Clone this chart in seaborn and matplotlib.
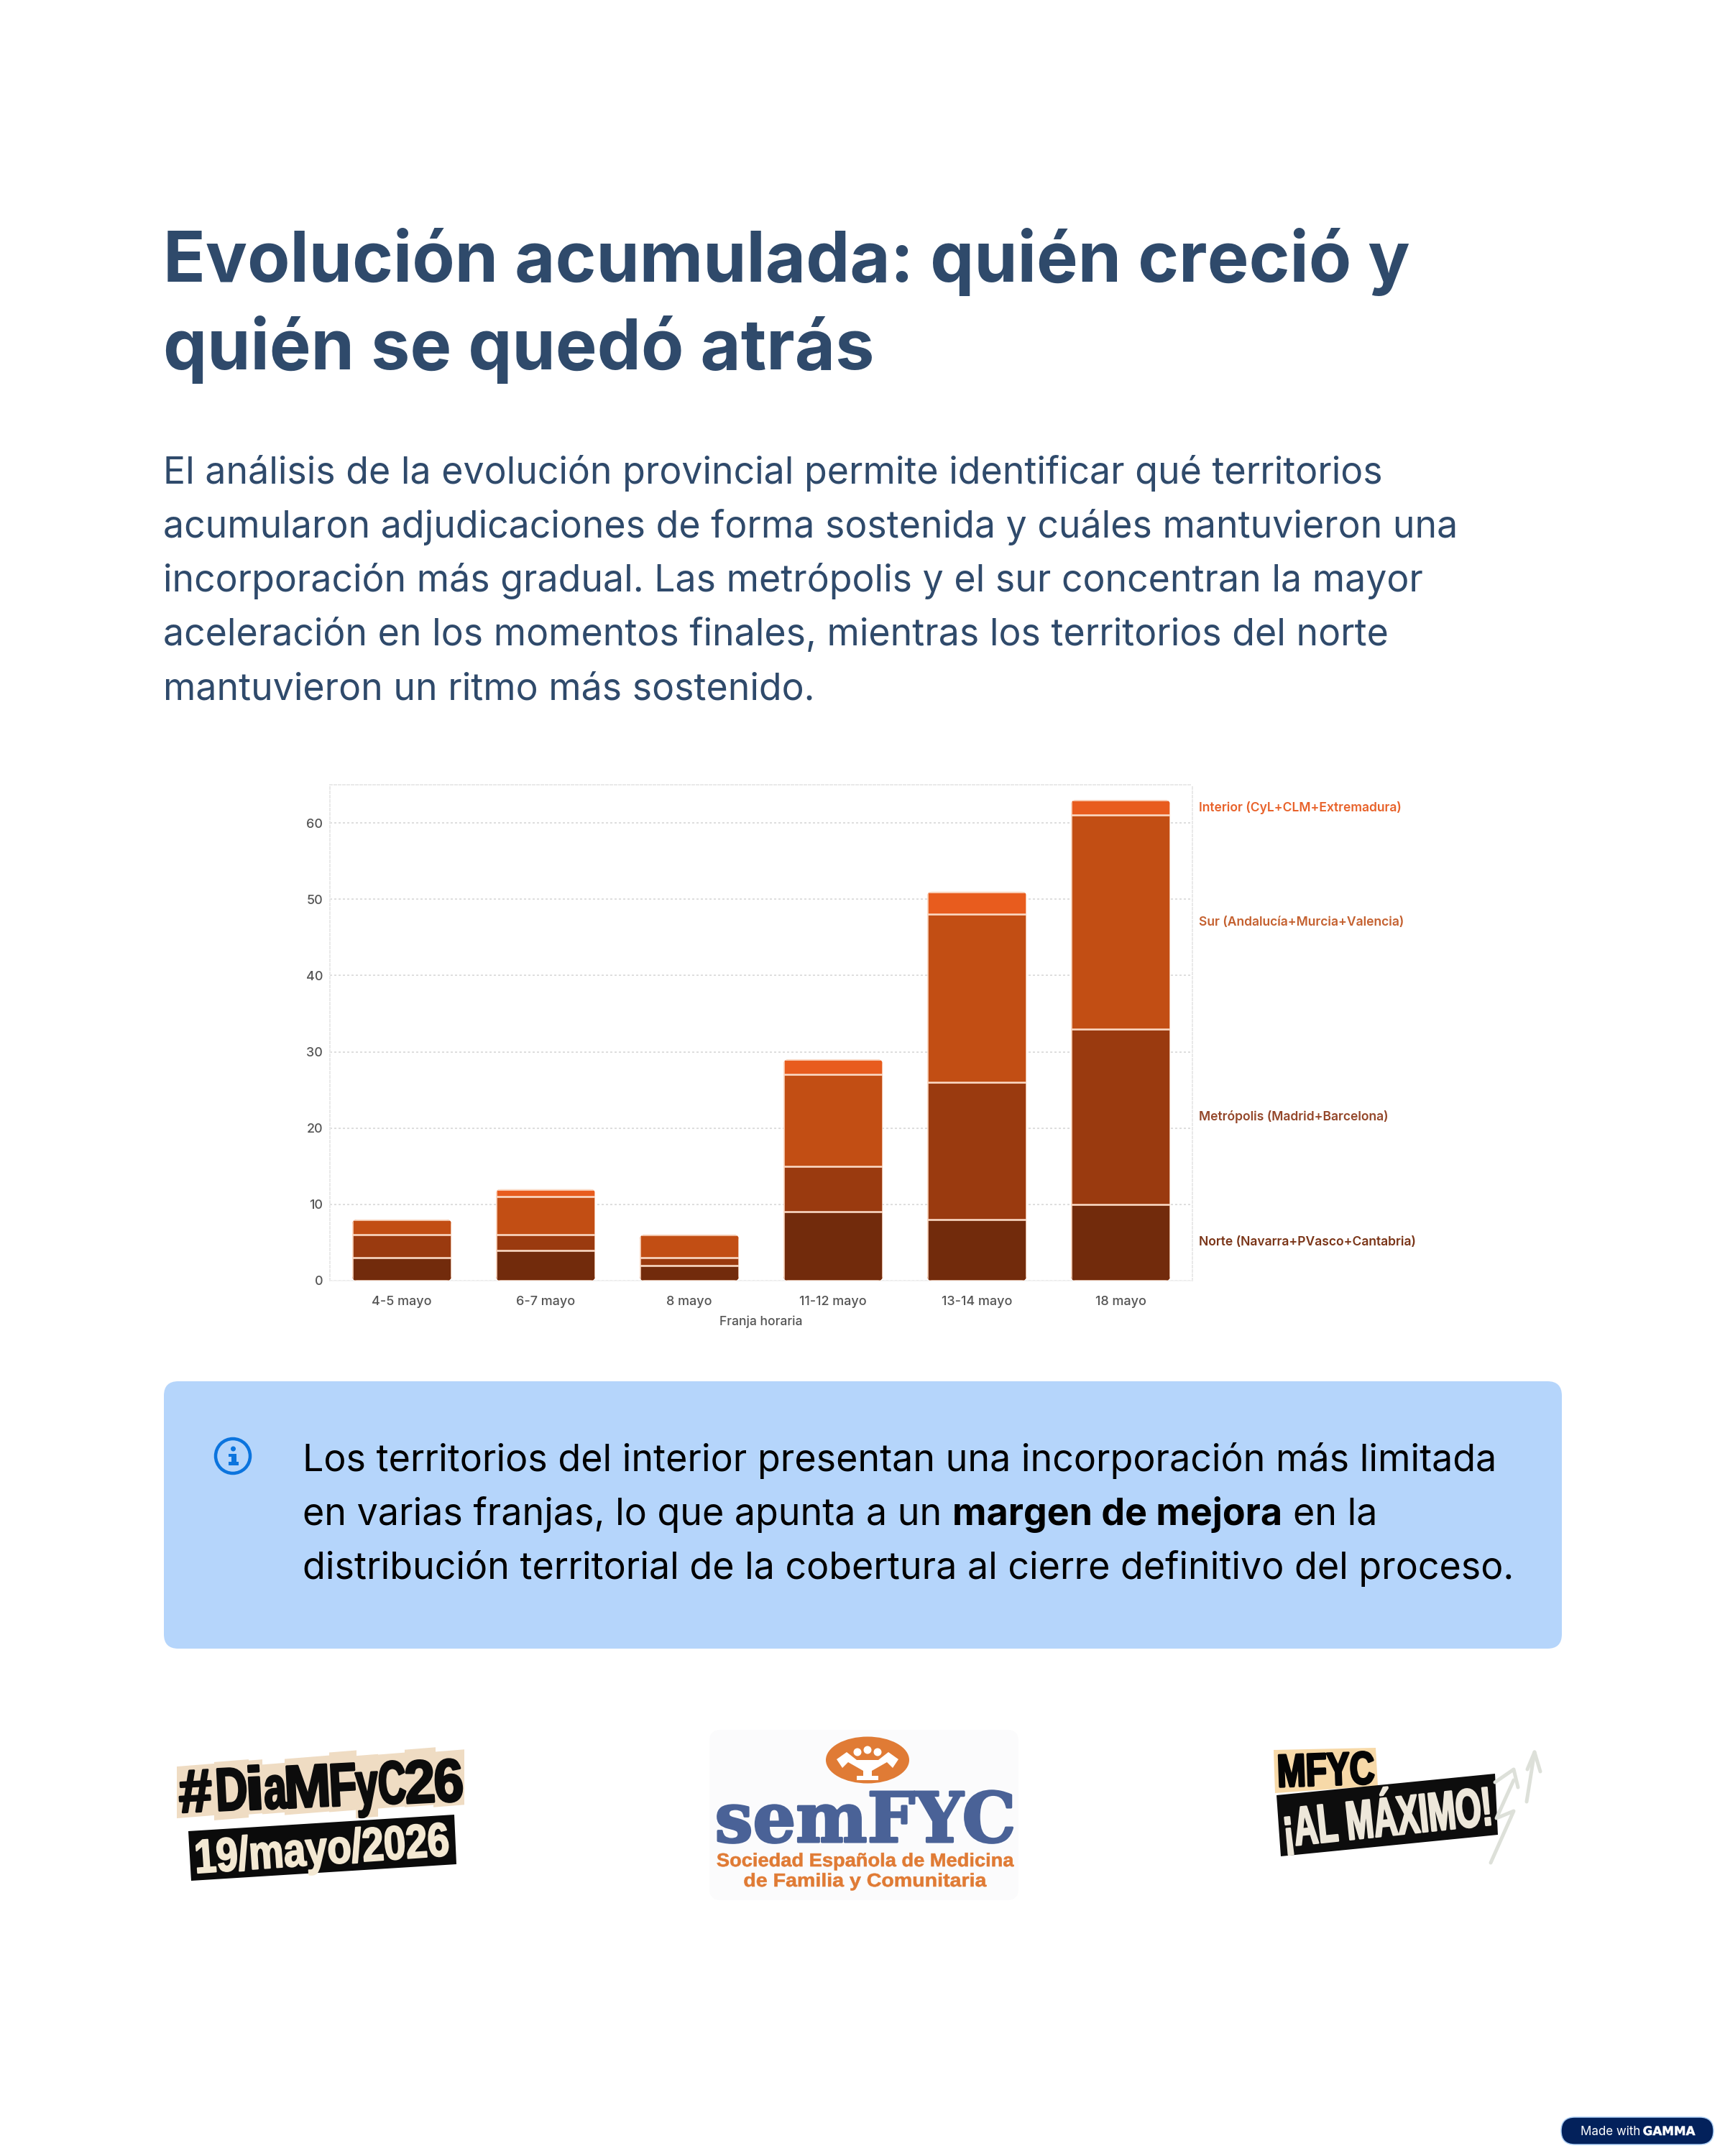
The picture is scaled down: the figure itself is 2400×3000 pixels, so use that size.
import numpy as np
import matplotlib
matplotlib.use("Agg")
import matplotlib.pyplot as plt
import seaborn as sns
from matplotlib.patches import FancyBboxPatch, Polygon, Circle, Ellipse, Rectangle
from matplotlib.patheffects import AbstractPathEffect
from matplotlib.transforms import Affine2D

# Cumulative awards per territory group and time slot
periods = ["4-5 mayo", "6-7 mayo", "8 mayo", "11-12 mayo", "13-14 mayo", "18 mayo"]
norte = [3, 4, 2, 9, 8, 10]
metropolis = [3, 2, 1, 6, 18, 23]
sur = [2, 5, 3, 12, 22, 28]
interior = [0, 1, 0, 2, 3, 2]

series_names = [
    "Norte (Navarra+PVasco+Cantabria)",
    "Metrópolis (Madrid+Barcelona)",
    "Sur (Andalucía+Murcia+Valencia)",
    "Interior (CyL+CLM+Extremadura)",
]
series_colors = ["#722B0C", "#9A3A0F", "#C24E14", "#E85C1E"]
label_colors = ["#7A3518", "#94472A", "#C4602F", "#E8622A"]
y_ticks = [0, 10, 20, 30, 40, 50, 60]

title_lines = ["Evolución acumulada: quién creció y", "quién se quedó atrás"]
body_lines = [
    "El análisis de la evolución provincial permite identificar qué territorios",
    "acumularon adjudicaciones de forma sostenida y cuáles mantuvieron una",
    "incorporación más gradual. Las metrópolis y el sur concentran la mayor",
    "aceleración en los momentos finales, mientras los territorios del norte",
    "mantuvieron un ritmo más sostenido.",
]

INK = "#2F4A6B"
NARROW = ["Liberation Sans", "DejaVu Sans"]

sns.set_theme(style="white")
plt.rcParams["font.family"] = ["Inter", "DejaVu Sans"]


def pt(px):
    return px * 0.72


class FitWidth(AbstractPathEffect):
    """Squeeze a text around its centre to a pixel width, optionally thickening it."""

    def __init__(self, width, heavy=0.0):
        super().__init__()
        self.width = width
        self.heavy = heavy

    def draw_path(self, renderer, gc, tpath, affine, rgbFace=None):
        box = tpath.get_extents()
        a, b, c, d = affine.get_matrix()[:2, :2].ravel()
        scale = np.sqrt(abs(a * d - b * c))
        sx = self.width / (box.width * scale)
        cx = (box.x0 + box.x1) / 2
        squeeze = Affine2D().translate(-cx, 0).scale(sx, 1).translate(cx, 0)
        pen = renderer.new_gc()
        pen.copy_properties(gc)
        pen.set_linewidth(pt(self.heavy))
        pen.set_foreground(rgbFace)
        pen.set_joinstyle("round")
        renderer.draw_path(pen, tpath, squeeze + affine, rgbFace)
        pen.restore()


fig = plt.figure(figsize=(24, 30), dpi=100, facecolor="white")

# Page layer, addressed in pixels from the top-left corner
page = fig.add_axes([0, 0, 1, 1], zorder=0)
page.set_xlim(0, 2400)
page.set_ylim(3000, 0)
page.axis("off")

for text, base in zip(title_lines, [392, 514]):
    page.text(227, base, text, fontsize=pt(97), fontweight="bold", color=INK, va="baseline")
for i, text in enumerate(body_lines):
    page.text(227, 673 + i * 75, text, fontsize=pt(51.8), color=INK, va="baseline")

# Callout
page.add_patch(FancyBboxPatch((228, 1922), 1945, 372, boxstyle="round,pad=0,rounding_size=20",
                              fc="#B5D5FB", ec="none"))
ICON = "#0B74DE"
page.add_patch(Circle((324, 2026), 24, fc="none", ec=ICON, lw=pt(4.5)))
page.add_patch(Circle((324.5, 2016), 3.5, fc=ICON, ec="none"))
page.add_patch(Rectangle((322, 2023), 7, 15, fc=ICON, ec="none"))
page.add_patch(Rectangle((318, 2023), 8, 4, fc=ICON, ec="none"))
page.add_patch(Rectangle((318, 2034), 14, 4.5, fc=ICON, ec="none"))

page.text(421, 2047, "Los territorios del interior presentan una incorporación más limitada",
          fontsize=pt(52), color="black", va="baseline")
page.text(421, 2197, "distribución territorial de la cobertura al cierre definitivo del proceso.",
          fontsize=pt(52), color="black", va="baseline")
renderer = fig.canvas.get_renderer()
cursor = 421
for piece, weight in [("en varias franjas, lo que apunta a un", "normal"),
                      ("margen de mejora", "bold"), ("en la", "normal")]:
    t = page.text(cursor, 2122, piece, fontsize=pt(52), fontweight=weight, color="black", va="baseline")
    cursor = t.get_window_extent(renderer).x1 + 15

# Stacked bars, tallest layer first so that each stack shows its segments
chart = fig.add_axes([459 / 2400, 1 - 1782 / 3000, 1200 / 2400, 690 / 3000], zorder=1)
chart.patch.set_alpha(0)
stack = np.cumsum(np.array([norte, metropolis, sur, interior]), axis=0)
for level in range(3, -1, -1):
    sns.barplot(x=periods, y=stack[level], color=series_colors[level], saturation=1, width=0.69,
                edgecolor="#FBD9C4", linewidth=pt(2.6), ax=chart, zorder=3)

chart.set_xlim(-0.5, 5.5)
chart.set_ylim(0, 65)
aspect = 200 / (690 / 65)
for bar in chart.patches:
    slot = int(round(bar.get_x() + bar.get_width() / 2))
    outline = FancyBboxPatch((slot - 0.345, 0), 0.69, stack[3][slot],
                             boxstyle="round,pad=0,rounding_size=0.035", mutation_aspect=aspect)
    outline.set_transform(chart.transData)
    bar.set_clip_path(outline)

chart.set_yticks(y_ticks)
chart.set_axisbelow(True)
chart.yaxis.grid(True, ls=(0, (1.5, 1.5)), color="#DEDEDE", lw=pt(2))
chart.xaxis.grid(False)
chart.tick_params(axis="y", length=0, pad=7, labelsize=pt(18), labelcolor="#555555")
chart.tick_params(axis="x", length=5, width=1, color="#EEF1F4", pad=10, labelsize=pt(18), labelcolor="#555555")
for label in chart.get_xticklabels() + chart.get_yticklabels():
    label.set_fontweight("medium")
for name in ["top", "left", "right"]:
    chart.spines[name].set(visible=True, linestyle=(0, (1.5, 1.5)), color="#E9E9E9", linewidth=pt(2))
chart.spines["bottom"].set(visible=True, color="#F0F0F0", linewidth=pt(1.5))
chart.set_xlabel("Franja horaria", fontsize=pt(17.5), fontweight="medium", color="#555555", labelpad=8)
chart.set_ylabel("")

last_base = np.concatenate([[0], stack[:-1, -1]])
for name, color, low, high in zip(series_names, label_colors, last_base, stack[:, -1]):
    chart.annotate(name, xy=(5.5, (low + high) / 2), xytext=(9, 0), textcoords="offset pixels",
                   va="center", ha="left", fontsize=pt(17.5), fontweight="semibold", color=color,
                   annotation_clip=False)

# Campaign mark: cut-out letters and date strip
TILE = "#EFDCC3"
letters = [
    ("#", 246, 298, 2456, 2528, 44), ("D", 298, 346, 2450, 2531, 38), ("i", 344, 365, 2449, 2524, 14),
    ("a", 365, 400, 2454, 2523, 30), ("M", 396, 460, 2445, 2523, 55), ("F", 458, 496, 2437, 2520, 32),
    ("y", 495, 526, 2442, 2529, 30), ("C", 526, 565, 2440, 2515, 35), ("2", 563, 606, 2433, 2513, 37),
    ("6", 603, 646, 2436, 2513, 36),
]
for ch, x0, x1, y0, y1, w in letters:
    tilt = (x1 - x0) * 0.04
    page.add_patch(Polygon([(x0, y0 + tilt), (x1, y0 - tilt), (x1, y1 - tilt), (x0, y1 + tilt)],
                           fc=TILE, ec="none"))
for ch, x0, x1, y0, y1, w in letters:
    base = 2522 - (x0 - 246) * 0.04
    page.text((x0 + x1) / 2, base, ch, fontsize=pt(84), fontweight="bold", family=NARROW, color="#0C0C0C",
              ha="center", va="baseline", rotation=3, path_effects=[FitWidth(w, 3)])
page.add_patch(Polygon([(262, 2548), (632, 2525), (635, 2594), (266, 2617)], fc="#0B0B0B", ec="none"))
page.text(449, 2594, "19/mayo/2026", fontsize=pt(66), fontweight="bold", family=NARROW, color="#F3E8D2",
          ha="center", va="baseline", rotation=4, rotation_mode="anchor", path_effects=[FitWidth(350, 2)])

# Society logo
page.add_patch(FancyBboxPatch((987, 2407), 430, 237, boxstyle="round,pad=0,rounding_size=16",
                              fc="#FBFBFC", ec="none"))
ORANGE = "#E07B35"
page.add_patch(Ellipse((1207, 2449), 116, 65, fc=ORANGE, ec="none"))
for cx, cy in [(1193, 2438), (1207, 2435), (1221, 2438)]:
    page.add_patch(Circle((cx, cy), 5.5, fc="white", ec="none"))
page.add_patch(Polygon([(1164, 2448), (1178, 2438), (1192, 2449), (1222, 2449), (1236, 2438), (1250, 2448),
                        (1242, 2460), (1234, 2452), (1213, 2464), (1213, 2471), (1222, 2471), (1222, 2477),
                        (1192, 2477), (1192, 2471), (1201, 2471), (1201, 2464), (1180, 2452), (1172, 2460)],
                       fc="white", ec="none"))
page.text(1204, 2563, "semFYC", fontsize=pt(96), fontweight="bold", family=["DejaVu Serif"], color="#4A6297",
          ha="center", va="baseline", path_effects=[FitWidth(410, 3)])
page.text(1204, 2597, "Sociedad Española de Medicina", fontsize=pt(26), fontweight="bold", family=NARROW,
          color=ORANGE, ha="center", va="baseline", path_effects=[FitWidth(413, 0.6)])
page.text(1204, 2625, "de Familia y Comunitaria", fontsize=pt(26), fontweight="bold", family=NARROW,
          color=ORANGE, ha="center", va="baseline", path_effects=[FitWidth(337, 0.6)])

# Slogan mark
page.add_patch(Polygon([(1772, 2435), (1914, 2432), (1917, 2485), (1774, 2495)], fc="#F7D9A8", ec="none"))
page.text(1845, 2484, "MFYC", fontsize=pt(64), fontweight="bold", family=NARROW, color="#050505",
          ha="center", va="baseline", rotation=2, rotation_mode="anchor", path_effects=[FitWidth(131, 3)])
page.add_patch(Polygon([(1776, 2498), (2080, 2468), (2084, 2553), (1782, 2583)], fc="#0D0D0D", ec="none"))
page.text(1933, 2554, "¡AL MÁXIMO!", fontsize=pt(76), fontweight="bold", family=NARROW, color="#EDE7DA",
          ha="center", va="baseline", rotation=6, rotation_mode="anchor", path_effects=[FitWidth(284, 2.5)])
ARROW = "#DDE0D9"
for xs, ys in [([2074, 2106, 2082, 2106], [2592, 2520, 2530, 2477]),
               ([2080, 2106, 2112], [2480, 2462, 2487]),
               ([2124, 2135, 2125], [2507, 2438, 2462]),
               ([2135, 2143], [2438, 2465])]:
    page.plot(xs, ys, color=ARROW, lw=pt(5), solid_capstyle="round", solid_joinstyle="round")

# Footer badge
page.add_patch(FancyBboxPatch((2172, 2946), 212, 38, boxstyle="round,pad=0,rounding_size=19",
                              fc="#03215B", ec="#A9CCF3", lw=pt(1.5)))
page.text(2199, 2971, "Made with", fontsize=pt(17), color="white", va="baseline")
page.text(2322, 2971, "GAMMA", fontsize=pt(17), fontweight="bold", family=["DejaVu Sans"], color="white",
          ha="center", va="baseline", path_effects=[FitWidth(72, 0.5)])

fig.savefig("out.png", dpi=100, facecolor=fig.get_facecolor())
